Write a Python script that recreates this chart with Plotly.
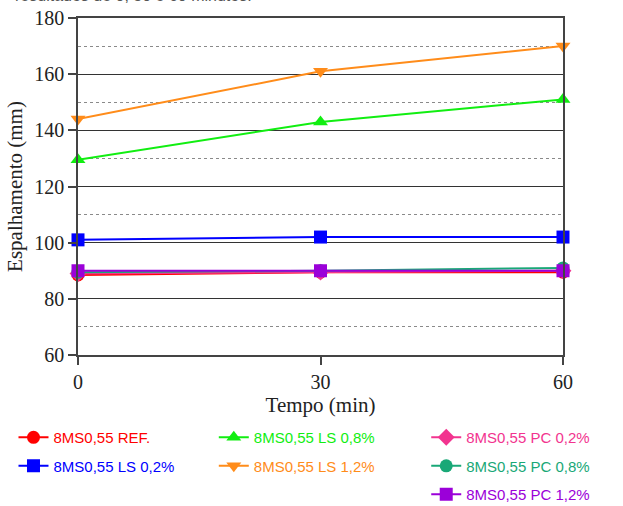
import plotly.graph_objects as go

# Spreading (mm) measured at each time (min)
tempo = [0, 30, 60]
ref = [88.5, 89.5, 89.5]
ls_02 = [101, 102, 102]
ls_08 = [129.5, 143, 151]
ls_12 = [144, 161, 170]
pc_02 = [89, 89.5, 90]
pc_08 = [89.5, 90, 91]
pc_12 = [90, 90, 90]

y_ticks = [60, 80, 100, 120, 140, 160, 180]
x_ticks = [0, 30, 60]

series = [
    ("8MS0,55 REF.", ref, "#ff0000", "circle", "legend"),
    ("8MS0,55 LS 0,2%", ls_02, "#0000ff", "square", "legend"),
    ("8MS0,55 LS 0,8%", ls_08, "#11ee11", "triangle-up", "legend2"),
    ("8MS0,55 LS 1,2%", ls_12, "#ff8c1a", "triangle-down", "legend2"),
    ("8MS0,55 PC 0,2%", pc_02, "#f2348f", "diamond", "legend3"),
    ("8MS0,55 PC 0,8%", pc_08, "#19a877", "circle", "legend3"),
    ("8MS0,55 PC 1,2%", pc_12, "#9b00d9", "square", "legend3"),
]

fig = go.Figure()
for i, (label, vals, color, symbol, leg) in enumerate(series):
    fig.add_trace(go.Scatter(
        x=tempo, y=vals, mode="lines+markers",
        name=f"<span style='color:{color}'>{label}</span>",
        line=dict(color=color, width=2),
        marker=dict(color=color, symbol=symbol, size=13, line=dict(width=0)),
        cliponaxis=False, legend=leg, legendgroup=f"g{i}",
    ))

serif = "Liberation Serif"
axis_common = dict(
    showline=True, mirror=True, linecolor="#444", linewidth=1.5,
    ticks="outside", ticklen=8, tickcolor="#444", tickwidth=1.5,
    zeroline=False, tickfont=dict(family=serif, size=20, color="#222"),
)

legend_common = dict(
    xanchor="left", yanchor="top", y=-0.196, orientation="v",
    font=dict(family="Liberation Sans", size=15),
    bgcolor="rgba(0,0,0,0)", tracegroupgap=6, itemwidth=30,
)

fig.update_layout(
    width=623, height=506, autosize=False,
    margin=dict(l=78, r=60, t=18, b=151, autoexpand=False),
    paper_bgcolor="white", plot_bgcolor="white",
    xaxis=dict(range=[0, 60], tickvals=x_ticks, showgrid=False,
               title=dict(text="Tempo (min)", font=dict(family=serif, size=21, color="#222"), standoff=2),
               **axis_common),
    yaxis=dict(range=[60, 180], tickvals=y_ticks, showgrid=True, gridcolor="#333", gridwidth=1,
               minor=dict(dtick=10, showgrid=True, gridcolor="#8a8a8a", griddash="dot", gridwidth=1),
               title=dict(text="Espalhamento (mm)", font=dict(family=serif, size=21, color="#222"), standoff=6),
               **axis_common),
    legend=dict(x=-0.133, **legend_common),
    legend2=dict(x=0.28, **legend_common),
    legend3=dict(x=0.718, **legend_common),
    showlegend=True,
    annotations=[dict(
        text="resultados de 0, 30 e 60 minutos.", xref="paper", yref="paper",
        x=-0.134, y=1.0355, xanchor="left", yanchor="bottom", showarrow=False,
        font=dict(family="Liberation Sans", size=16, color="#555"),
    )],
)

fig.write_html("out.html")
